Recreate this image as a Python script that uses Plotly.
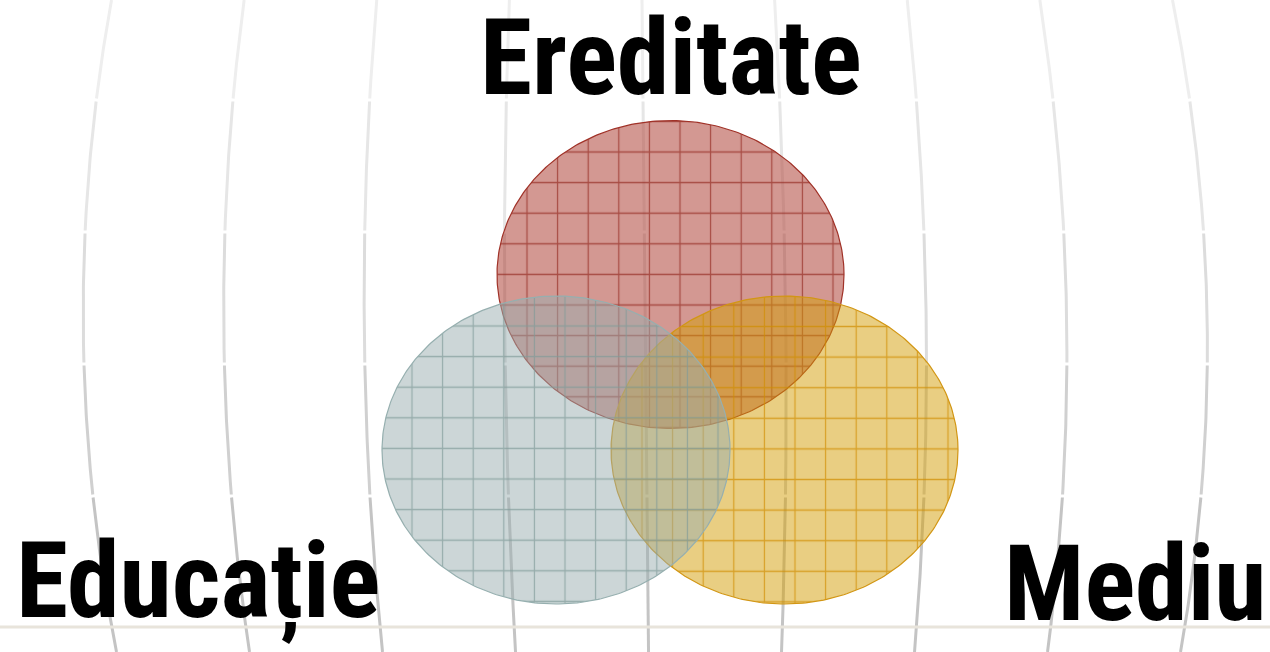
import numpy as np
import plotly.graph_objects as go

W, H = 1270, 652

# ---- data: the three sets of the Venn diagram (pixel-like data units) ----
set_names = ["Ereditate", "Mediu", "Educație"]          # drawing order
center_x = [670.5, 784.5, 556.0]
center_y = [274.5, 450.0, 450.0]
radius_x = [173.5, 173.5, 174.0]
radius_y = [154.0, 154.0, 154.0]

# label anchors
label_text = ["Ereditate", "Educație", "Mediu"]
label_x = [670.5, 14, 1268]
label_y = [57.5, 581.5, 583.5]
label_xanchor = ["center", "left", "right"]

styles = {
    "Ereditate": dict(fill="rgba(182,83,73,0.6)", grid="rgb(150,42,34)", edge="rgb(160,50,40)", off=(22.1, 14.3)),
    "Mediu": dict(fill="rgba(211,157,5,0.5)", grid="rgb(207,140,0)", edge="rgb(210,150,20)", off=(14.7, 5.2)),
    "Educație": dict(fill="rgba(153,173,175,0.5)", grid="rgb(127,154,153)", edge="rgb(150,175,175)", off=(29.5, 4.7)),
}

fig = go.Figure()

# ---- decorative background: curved vertical lines in broken segments ----
breaks = [0, 100, 232, 364, 496, 652]
seg_colors = ["#eeeeee", "#e6e6e6", "#dcdcdc", "#d0d0d0", "#c4c4c4"]


def spacing(y):
    return 140.5 - 7.5 * ((y - 330) / 322.0) ** 2


for s in range(5):
    y0 = breaks[s] + (1.5 if s > 0 else 0)
    y1 = breaks[s + 1] - (1.5 if s < 4 else 0)
    ys = np.linspace(y0, y1, 40)
    for i in range(-5, 6):
        xs = 642 + 0.01 * ys + i * spacing(ys)
        fig.add_trace(go.Scatter(x=xs, y=ys, mode="lines", line=dict(color=seg_colors[s], width=3),
                                 hoverinfo="skip", showlegend=False, xaxis="x", yaxis="y"))

# beige baseline
fig.add_trace(go.Scatter(x=[0, W], y=[627, 627], mode="lines", line=dict(color="#e8e4db", width=3),
                         hoverinfo="skip", showlegend=False, xaxis="x", yaxis="y"))

# ---- ellipses, each on its own overlay subplot so that its grid pattern aligns ----
t = np.linspace(0, 2 * np.pi, 361)
layout_axes = {}
for k, name in enumerate(set_names):
    st = styles[name]
    dx, dy = st["off"]
    ax = str(k + 2)
    xs = center_x[k] + radius_x[k] * np.cos(t)
    ys = center_y[k] + radius_y[k] * np.sin(t)
    fig.add_trace(go.Scatter(
        x=xs, y=ys, mode="lines", fill="toself", fillcolor=st["fill"],
        fillpattern=dict(shape="+", size=30.6, solidity=0.08, fgcolor=st["grid"], fgopacity=0.7,
                         fillmode="overlay"),
        line=dict(color=st["edge"], width=1.2), hoverinfo="skip", showlegend=False,
        xaxis="x" + ax, yaxis="y" + ax, name=name))
    layout_axes["xaxis" + ax] = dict(domain=[dx / W, 1], range=[dx, W], visible=False, fixedrange=True,
                                     anchor="y" + ax)
    layout_axes["yaxis" + ax] = dict(domain=[0, 1 - dy / H], range=[H, dy], visible=False, fixedrange=True,
                                     anchor="x" + ax)

annotations = []
for txt, x, y, xa in zip(label_text, label_x, label_y, label_xanchor):
    annotations.append(dict(text=txt, x=x, y=y, xref="x", yref="y", xanchor=xa, yanchor="middle",
                            showarrow=False,
                            font=dict(family="Roboto Condensed, Roboto, Liberation Sans",
                                      size=106, color="black", weight="bold")))

fig.update_layout(
    width=W, height=H, autosize=False,
    margin=dict(l=0, r=0, t=0, b=0, pad=0),
    paper_bgcolor="white", plot_bgcolor="rgba(0,0,0,0)",
    xaxis=dict(domain=[0, 1], range=[0, W], visible=False, fixedrange=True),
    yaxis=dict(domain=[0, 1], range=[H, 0], visible=False, fixedrange=True),
    annotations=annotations,
    **layout_axes,
)

fig.write_html("out.html", config={"displayModeBar": False},
               post_script="document.body.style.margin='0';document.body.style.overflow='hidden';")
